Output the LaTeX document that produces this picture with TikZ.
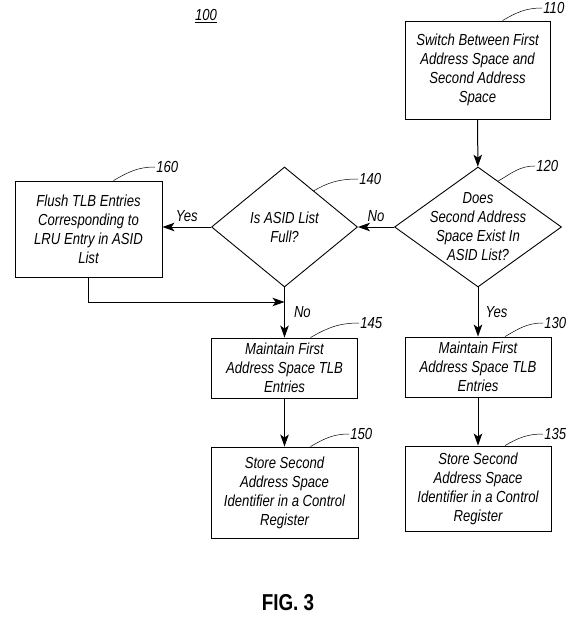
\documentclass[tikz,border=0pt]{standalone}
\usepackage{fontspec}
\setmainfont[FakeStretch=0.82]{Liberation Sans}
\usetikzlibrary{calc}
\usetikzlibrary{shapes.geometric}
\usetikzlibrary{arrows.meta}

\begin{document}
\begin{tikzpicture}[x=1pt,y=1pt,thick,>={Stealth[length=12pt,width=8.5pt,inset=3pt]}] %% tikz
		\tikzstyle{kuang}=[draw,line width=.9pt,minimum width=146pt,align=center,inner sep=1pt,font=\fontsize{16}{19}\selectfont\itshape]
		\tikzstyle{ling}=[diamond,draw,line width=.9pt,inner sep=0pt]
		\tikzstyle{wen}=[align=center,inner sep=0pt,font=\fontsize{16}{19}\selectfont\itshape]
		\tikzstyle{hao}=[anchor=west,inner sep=1pt,font=\fontsize{16}{19}\selectfont\itshape]
		\tikzstyle{yin}=[line width=.5pt]
		\tikzstyle{jian}=[->,line width=1pt]
		%% page
		\useasboundingbox (0,0) rectangle (582,-620);
		%% right column
		\node[kuang,minimum width=145pt,minimum height=98pt] (b110) at (477.5,-70) {Switch Between First\\Address Space and\\Second Address\\Space};
		\node[ling,minimum width=167pt,minimum height=120pt] (d120) at (478,-227) {};
		\node[wen] (t120) at (d120) {Does\\Second Address\\Space Exist In\\ASID List?};
		\node[kuang,minimum height=60pt] (b130) at (478,-367) {Maintain First\\Address Space TLB\\Entries};
		\node[kuang,minimum height=85pt] (b135) at (478,-488.5) {Store Second\\Address Space\\Identifier in a Control\\Register};
		%% middle column
		\node[ling,minimum width=146pt,minimum height=120pt] (d140) at (284.5,-227) {};
		\node[wen] (t140) at (d140) {Is ASID List\\Full?};
		\node[kuang,minimum height=60pt] (b145) at (284.5,-368) {Maintain First\\Address Space TLB\\Entries};
		\node[kuang,minimum width=147pt,minimum height=91pt] (b150) at (284.5,-492.5) {Store Second\\Address Space\\Identifier in a Control\\Register};
		%% left box
		\node[kuang,minimum width=147pt,minimum height=96pt] (b160) at (88.5,-229) {Flush TLB Entries\\Corresponding to\\LRU Entry in ASID\\List};
		\coordinate (j) at (284.5,-302);
		%% arrows
		\draw[jian] (b110) -- (d120);
		\draw[jian] (d120) -- node[wen,above=5pt]{No} (d140);
		\draw[jian] (d140.west) -- node[wen,above=5pt]{Yes} (d140.west -| b160.east);
		\draw[jian] (d140) -- node[wen,right=9pt]{No} (b145);
		\draw[jian] (b160.south) |- (j);
		\draw[jian] (d120) -- node[wen,right=7pt]{Yes} (b130);
		\draw[jian] (b145) -- (b150);
		\draw[jian] (b130) -- (b135);
		%% reference numbers
		\node[hao] (n110) at (542,-8) {110};
		\node[hao] (n120) at (535,-166) {120};
		\node[hao] (n140) at (358,-179) {140};
		\node[hao] (n160) at (155,-167) {160};
		\node[hao] (n145) at (359,-323) {145};
		\node[hao] (n130) at (543,-323) {130};
		\node[hao] (n150) at (349,-434) {150};
		\node[hao] (n135) at (543,-434) {135};
		\draw[yin] ($(b110.north)+(25,0)$) to[out=30,in=180] (n110.west);
		\draw[yin] ($(d120.north)!.24!(d120.east)$) to[out=30,in=180] (n120.west);
		\draw[yin] ($(d140.north)!.4!(d140.east)$) to[out=30,in=180] (n140.west);
		\draw[yin] ($(b160.north)+(25,0)$) to[out=30,in=180] (n160.west);
		\draw[yin] ($(b145.north)+(26,0)$) to[out=30,in=180] (n145.west);
		\draw[yin] ($(b130.north)+(27,0)$) to[out=30,in=180] (n130.west);
		\draw[yin] ($(b150.north)+(26,0)$) to[out=30,in=180] (n150.west);
		\draw[yin] ($(b135.north)+(27,0)$) to[out=30,in=180] (n135.west);
		%% titles
		\node[wen] (n100) at (206,-16) {\underline{100}};
		\node[font=\fontsize{23}{26}\selectfont\bfseries] (fig) at (288,-603) {FIG. 3};
	\end{tikzpicture}
\end{document}
